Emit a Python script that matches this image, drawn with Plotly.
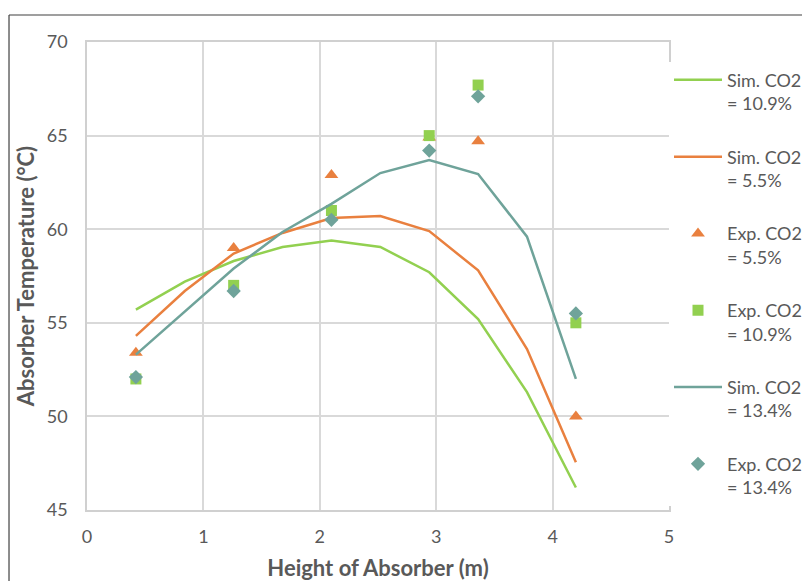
import plotly.graph_objects as go

# Data
sim_x = [0.42, 0.84, 1.26, 1.68, 2.10, 2.52, 2.94, 3.36, 3.78, 4.20]
sim_109 = [55.7, 57.2, 58.3, 59.05, 59.4, 59.05, 57.7, 55.2, 51.3, 46.2]
sim_55 = [54.3, 56.7, 58.7, 59.8, 60.6, 60.7, 59.9, 57.8, 53.6, 47.55]
sim_134 = [53.3, 55.6, 57.9, 59.85, 61.35, 63.0, 63.7, 62.95, 59.6, 52.0]

exp_x = [0.42, 1.26, 2.10, 2.94, 3.36, 4.20]
exp_55 = [53.4, 59.0, 62.9, 64.9, 64.7, 50.0]
exp_109 = [52.0, 57.0, 61.0, 65.0, 67.7, 55.0]
exp_134 = [52.1, 56.7, 60.5, 64.2, 67.1, 55.5]

x_ticks = [0, 1, 2, 3, 4, 5]
y_ticks = [45, 50, 55, 60, 65, 70]

GREEN = "#92D050"
ORANGE = "#E9803F"
TEAL = "#6FA39A"
FONT = "Lato"
GRAY = "#595959"

fig = go.Figure()
fig.add_trace(go.Scatter(x=sim_x, y=sim_109, mode="lines", name="Sim. CO2<br>= 10.9%",
                         line=dict(color=GREEN, width=2.5), legendgroup="a"))
fig.add_trace(go.Scatter(x=sim_x, y=sim_55, mode="lines", name="Sim. CO2<br>= 5.5%",
                         line=dict(color=ORANGE, width=2.5), legendgroup="b"))
fig.add_trace(go.Scatter(x=exp_x, y=exp_55, mode="markers", name="Exp. CO2<br>= 5.5%",
                         marker=dict(color=ORANGE, symbol="triangle-up", size=12), legendgroup="c"))
fig.add_trace(go.Scatter(x=exp_x, y=exp_109, mode="markers", name="Exp. CO2<br>= 10.9%",
                         marker=dict(color=GREEN, symbol="square", size=11), legendgroup="d"))
fig.add_trace(go.Scatter(x=sim_x, y=sim_134, mode="lines", name="Sim. CO2<br>= 13.4%",
                         line=dict(color=TEAL, width=2.5), legendgroup="e"))
fig.add_trace(go.Scatter(x=exp_x, y=exp_134, mode="markers", name="Exp. CO2<br>= 13.4%",
                         marker=dict(color=TEAL, symbol="diamond", size=11), legendgroup="f"))

fig.update_layout(
    width=802, height=581,
    margin=dict(l=87, r=133, t=42, b=71, autoexpand=False),
    paper_bgcolor="white", plot_bgcolor="white",
    font=dict(family=FONT, size=18, color=GRAY),
    showlegend=True,
    legend=dict(x=1.0, xanchor="left", y=0.958, yanchor="top",
                valign="top", tracegroupgap=27, itemwidth=48,
                font=dict(family=FONT, size=18, color=GRAY)),
    xaxis=dict(range=[0, 5], tickvals=x_ticks, showgrid=True, gridcolor="#D9D9D9", gridwidth=1.5,
               showline=True, linecolor="#D0D0D0", linewidth=1.5, mirror=True, zeroline=False,
               ticks="", ticklabelstandoff=10, automargin=False,
               title=dict(text="<b>Height of Absorber (m)</b>", standoff=19,
                          font=dict(family=FONT, size=22, color=GRAY))),
    yaxis=dict(range=[45, 70], tickvals=y_ticks, showgrid=True, gridcolor="#D9D9D9", gridwidth=1.5,
               showline=True, linecolor="#D0D0D0", linewidth=1.5, mirror=True, zeroline=False,
               ticks="", ticklabelstandoff=14, automargin=False,
               title=dict(text="<b>Absorber Temperature (°C)</b>", standoff=6,
                          font=dict(family=FONT, size=22, color=GRAY))),
    shapes=[
        dict(type="line", xref="paper", yref="paper", x0=-0.134, x1=1.3, y0=1.0577, y1=1.0577,
             line=dict(color="#404040", width=1.2)),
        dict(type="line", xref="paper", yref="paper", x0=-0.134, x1=-0.134, y0=-0.2, y1=1.0577,
             line=dict(color="#404040", width=1.2)),
    ],
)

# remove the default page margin and scrollbars so the figure fills the window exactly
fig.write_html("out.html", config={"displayModeBar": False},
               post_script="document.body.style.margin='0';document.body.style.overflow='hidden';")
